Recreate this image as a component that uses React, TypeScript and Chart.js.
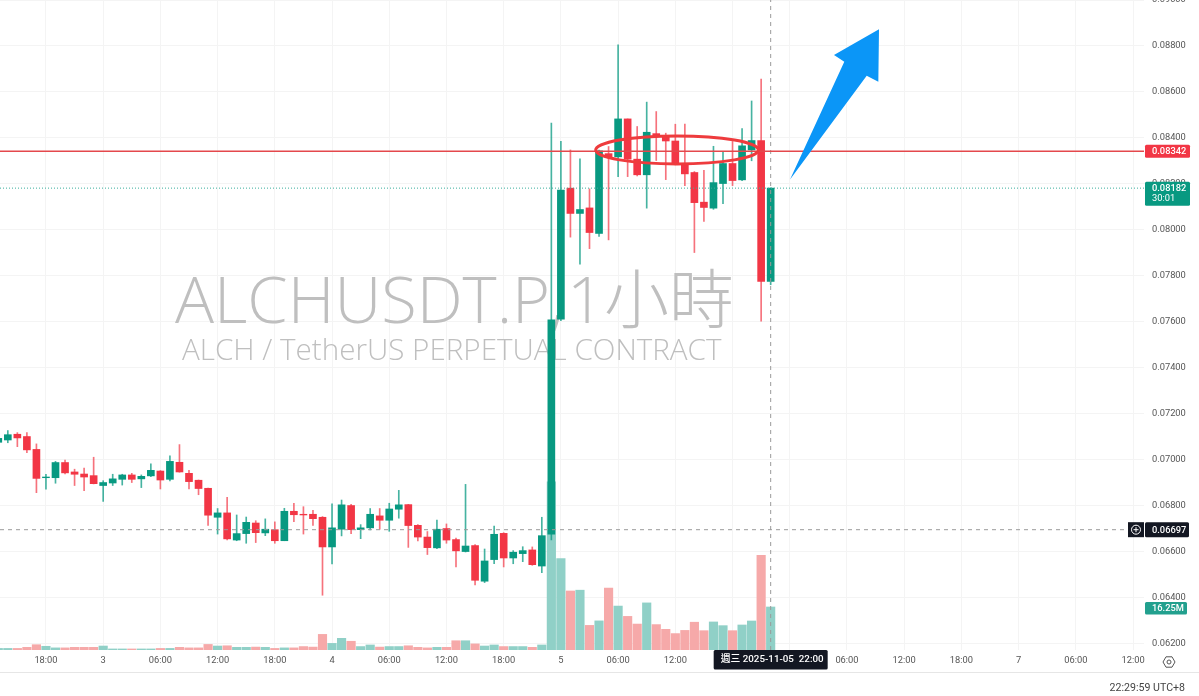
import React, { useEffect, useRef } from "react";
import { Chart, registerables } from "chart.js";

Chart.register(...registerables);

const hours = [-11,-10,-9,-8,-7,-6,-5,-4,-3,-2,-1,0,1,2,3,4,5,6,7,8,9,10,11,12,13,14,15,16,17,18,19,20,21,22,23,24,25,26,27,28,29,30,31,32,33,34,35,36,37,38,39,40,41,42,43,44,45,46,47,48,49,50,51,52,53,54,55,56,57,58,59,60,61,62,63,64,65,66,67,68,69,70];
const opens = [0.07077,0.07087,0.07112,0.07102,0.07046,0.06923,0.06923,0.06989,0.06948,0.06939,0.06932,0.06889,0.069,0.06916,0.06935,0.06918,0.06931,0.06952,0.06916,0.0699,0.06942,0.06912,0.06877,0.06751,0.0677,0.06652,0.0668,0.06726,0.06683,0.06697,0.06649,0.06777,0.06764,0.06764,0.06751,0.06622,0.06699,0.06802,0.06697,0.06705,0.06757,0.06738,0.06786,0.06806,0.06716,0.06665,0.06618,0.06702,0.06654,0.06602,0.06628,0.06473,0.06567,0.06681,0.06574,0.06593,0.06609,0.06539,0.06678,0.07612,0.08182,0.08072,0.08096,0.07985,0.08332,0.08318,0.08483,0.08308,0.0824,0.08419,0.08406,0.08387,0.0829,0.0825,0.08121,0.08095,0.08202,0.08289,0.08218,0.08348,0.08389,0.07776];
const closes = [0.07094,0.0711,0.07096,0.07044,0.0692,0.06926,0.06989,0.06944,0.06938,0.06926,0.06897,0.06902,0.06918,0.06935,0.06916,0.06929,0.06955,0.06913,0.06994,0.06948,0.06906,0.06876,0.0676,0.0677,0.06657,0.0668,0.06729,0.06684,0.06699,0.06649,0.06777,0.06762,0.06761,0.06745,0.06622,0.06705,0.06805,0.06697,0.06705,0.06764,0.06738,0.06787,0.06805,0.06715,0.06665,0.06619,0.06699,0.06652,0.06605,0.06626,0.06477,0.06561,0.06677,0.06574,0.06599,0.06606,0.06545,0.06671,0.07609,0.08174,0.08072,0.08089,0.07989,0.08344,0.08318,0.08483,0.08308,0.0824,0.08425,0.08406,0.08387,0.08286,0.08244,0.08119,0.08098,0.08206,0.08289,0.08215,0.08366,0.08389,0.07776,0.08182];
const highs = [0.07102,0.07128,0.07119,0.07119,0.0707,0.06938,0.06994,0.07,0.0696,0.06965,0.07012,0.0691,0.06938,0.06938,0.06942,0.06935,0.06983,0.06954,0.07018,0.07067,0.06955,0.06913,0.06878,0.06789,0.06838,0.06761,0.06752,0.06736,0.06744,0.06731,0.0679,0.06812,0.06797,0.06781,0.06754,0.06809,0.06826,0.06807,0.06719,0.06789,0.06789,0.06812,0.06868,0.06807,0.06719,0.06689,0.06739,0.06722,0.0666,0.06894,0.06632,0.06613,0.06713,0.06684,0.06606,0.06623,0.06622,0.06751,0.08465,0.08385,0.08348,0.08309,0.08179,0.08348,0.08363,0.08805,0.08483,0.0845,0.08556,0.08515,0.08421,0.0846,0.0846,0.08254,0.08259,0.08364,0.08338,0.08385,0.08441,0.08561,0.08656,0.08183];
const lows = [0.07073,0.07075,0.07058,0.07032,0.06858,0.06873,0.06899,0.06939,0.06889,0.06867,0.06896,0.0682,0.06889,0.06891,0.06902,0.0688,0.06928,0.06874,0.06909,0.06947,0.06874,0.06849,0.06716,0.06678,0.06652,0.06649,0.06638,0.06641,0.06671,0.06638,0.06649,0.06732,0.06678,0.06716,0.06412,0.06548,0.0667,0.0668,0.06658,0.06696,0.06699,0.0669,0.06747,0.0662,0.06648,0.06589,0.06615,0.06638,0.06535,0.066,0.06457,0.06467,0.06549,0.06535,0.06549,0.06558,0.06542,0.0651,0.06652,0.07606,0.07969,0.07851,0.07919,0.07972,0.07957,0.08232,0.08232,0.08235,0.08095,0.08302,0.08219,0.08283,0.08193,0.07902,0.08037,0.0809,0.08114,0.08193,0.08215,0.08301,0.07604,0.07762];
const volumes = [0.6,0.6,0.6,1.0,2.0,1.4,0.8,0.8,1.0,1.0,1.0,1.5,0.4,0.4,0.4,0.4,0.4,0.6,0.6,1.0,0.8,0.8,2.1,1.5,1.6,1.0,1.0,1.1,1.0,0.6,0.8,0.8,1.3,1.1,5.9,2.5,4.4,3.3,1.3,1.9,1.1,1.3,1.3,1.6,1.0,0.8,1.0,1.0,3.5,3.5,2.3,1.5,1.9,1.3,1.3,1.3,1.0,1.9,63.5,34.5,22.3,22.6,9.3,11,23.4,16.6,12.7,9.8,17.8,9.6,7.8,6.2,7.4,10.5,7.3,10.6,9.2,7.3,9.45,10.96,35.8,16.25];

const priceTicks = [0.062,0.064,0.066,0.068,0.07,0.072,0.074,0.076,0.078,0.08,0.082,0.084,0.086,0.088,0.09];
const timeTickHours = [-12,-6,0,6,12,18,24,30,36,42,48,54,60,66,72,78,84,90,96,102,108];
const timeTickLabels = ["12:00","18:00","3","06:00","12:00","18:00","4","06:00","12:00","18:00","5","06:00","12:00","18:00","6","06:00","12:00","18:00","7","06:00","12:00"];

const resistancePrice = 0.08342;
const lastPrice = 0.08182;
const crossPrice = 0.06697;
const crossHour = 70;
const crossLabel = "週三 2025-11-05  22:00";
const countdown = "30:01";
const volumeLabel = "16.25M";
const clockLabel = "22:29:59 UTC+8";
const titleLine = "ALCHUSDT.P, 1小時";
const subtitleLine = "ALCH / TetherUS PERPETUAL CONTRACT";

const arrowHours = [72.03, 77.72, 76.64, 81.36, 81.29, 80.07];
const arrowPrices = [0.0822, 0.08732, 0.08761, 0.08873, 0.08645, 0.08671];
const ringHour = 60.18;
const ringPrice = 0.08348;
const ringHalfHours = 8.53;
const ringHalfPrice = 0.00061;

const hourMin = -10.82;
const hourMax = 109.15;
const priceMax = 0.09;
const priceMin = 0.061739;
const volumeMax = 245.6;

const GREEN = "#089981";
const RED = "#f23645";
const GREEN_WICK = "rgba(8,153,129,0.75)";
const RED_WICK = "rgba(242,54,69,0.7)";
const GREEN_VOL = "#90d0c7";
const RED_VOL = "#f6a9a9";
const FONT = '"Open Sans", "Noto Sans CJK TC", sans-serif';
const UI_FONT = 'Roboto, "Noto Sans CJK TC", sans-serif';

const up = (i: number) => closes[i] >= opens[i];

function tag(ctx: CanvasRenderingContext2D, x: number, y: number, w: number, h: number, color: string) {
  ctx.fillStyle = color;
  ctx.beginPath();
  ctx.roundRect(x, y, w, h, 1.5);
  ctx.fill();
}

const decor = {
  id: "decor",
  beforeDatasetsDraw(chart: any) {
    const ctx: any = chart.ctx;
    ctx.save();
    ctx.fillStyle = "#bfbfbf";
    ctx.textBaseline = "alphabetic";
    ctx.textAlign = "left";
    ctx.font = `300 65px ${FONT}`;
    ctx.wordSpacing = "-14px";
    ctx.fillText(titleLine, 175, 323);
    ctx.wordSpacing = "0px";
    ctx.font = `300 29.6px ${FONT}`;
    ctx.fillText(subtitleLine, 182, 360);
    ctx.restore();
  },
  afterDraw(chart: any) {
    const ctx: CanvasRenderingContext2D = chart.ctx;
    const xs = chart.scales.x;
    const ys = chart.scales.y;
    ctx.save();

    // ring
    ctx.strokeStyle = "#ee3b3d";
    ctx.lineWidth = 3;
    const cx = xs.getPixelForValue(ringHour);
    const cy = ys.getPixelForValue(ringPrice);
    const rx = xs.getPixelForValue(ringHour + ringHalfHours) - cx;
    const ry = ys.getPixelForValue(ringPrice - ringHalfPrice) - cy;
    ctx.beginPath();
    ctx.ellipse(cx, cy, rx, ry, 0, 0, Math.PI * 2);
    ctx.stroke();

    // arrow
    ctx.fillStyle = "#0b96f7";
    ctx.beginPath();
    arrowHours.forEach((h, i) => {
      const px = xs.getPixelForValue(h);
      const py = ys.getPixelForValue(arrowPrices[i]);
      if (i === 0) ctx.moveTo(px, py);
      else ctx.lineTo(px, py);
    });
    ctx.closePath();
    ctx.fill();

    // bottom separator
    ctx.fillStyle = "#e6e6e6";
    ctx.fillRect(0, 672, 1199, 1);

    // price tags
    ctx.textBaseline = "middle";
    ctx.textAlign = "left";
    const rY = ys.getPixelForValue(resistancePrice);
    tag(ctx, 1145, rY - 6.5, 45, 13, RED);
    ctx.fillStyle = "#ffffff";
    ctx.font = `500 9.3px ${UI_FONT}`;
    ctx.fillText(resistancePrice.toFixed(5), 1152, rY + 0.5);

    const lY = ys.getPixelForValue(lastPrice);
    tag(ctx, 1145, lY - 6.5, 45, 24, GREEN);
    ctx.fillStyle = "#ffffff";
    ctx.fillText(lastPrice.toFixed(5), 1152, lY + 0.5);
    ctx.font = `400 9.3px ${UI_FONT}`;
    ctx.fillText(countdown, 1152, lY + 11);

    const cY = ys.getPixelForValue(crossPrice);
    ctx.fillStyle = "#131722";
    ctx.fillRect(1128, cY - 7.5, 16, 15);
    tag(ctx, 1145, cY - 7.5, 44, 15, "#131722");
    ctx.strokeStyle = "#ffffff";
    ctx.lineWidth = 1;
    ctx.beginPath();
    ctx.arc(1136, cY, 4.5, 0, Math.PI * 2);
    ctx.moveTo(1133.5, cY);
    ctx.lineTo(1138.5, cY);
    ctx.moveTo(1136, cY - 2.5);
    ctx.lineTo(1136, cY + 2.5);
    ctx.stroke();
    ctx.fillStyle = "#ffffff";
    ctx.font = `500 9.3px ${UI_FONT}`;
    ctx.fillText(crossPrice.toFixed(5), 1152, cY + 0.5);

    tag(ctx, 1145, 602, 42, 12.5, "#22a08e");
    ctx.fillStyle = "#ffffff";
    ctx.fillText(volumeLabel, 1152, 608.5);

    // crosshair time tag
    const hX = xs.getPixelForValue(crossHour);
    tag(ctx, hX - 57, 650, 114, 19.5, "#131722");
    ctx.fillStyle = "#ffffff";
    ctx.textAlign = "left";
    ctx.font = `500 9.8px ${UI_FONT}`;
    ctx.fillText(crossLabel, hX - 50, 660);

    // settings icon
    ctx.strokeStyle = "#555555";
    ctx.lineWidth = 1;
    ctx.beginPath();
    for (let i = 0; i < 6; i++) {
      const a = (Math.PI / 3) * i;
      const px = 1169 + 6 * Math.cos(a);
      const py = 662 + 6 * Math.sin(a);
      if (i === 0) ctx.moveTo(px, py);
      else ctx.lineTo(px, py);
    }
    ctx.closePath();
    ctx.moveTo(1171, 662);
    ctx.arc(1169, 662, 2, 0, Math.PI * 2);
    ctx.stroke();

    // clock
    ctx.fillStyle = "#444444";
    ctx.textAlign = "right";
    ctx.font = `400 10.6px ${UI_FONT}`;
    ctx.fillText(clockLabel, 1185, 688);
    ctx.restore();
  },
};

export default function App() {
  const ref = useRef<HTMLCanvasElement>(null);
  useEffect(() => {
    document.body.style.margin = "0";
    document.body.style.overflow = "hidden";
    const flat = (v: number) => [
      { x: hourMin, y: v },
      { x: hourMax, y: v },
    ];
    const chart = new Chart(ref.current as HTMLCanvasElement, {
      type: "bar",
      data: {
        datasets: [
          {
            type: "line",
            data: flat(resistancePrice),
            borderColor: "#e4484c",
            borderWidth: 1.5,
            pointRadius: 0,
            yAxisID: "y",
            order: 0,
          },
          {
            type: "line",
            data: flat(lastPrice),
            borderColor: "#3aaf9c",
            borderWidth: 1,
            borderDash: [1, 2],
            pointRadius: 0,
            yAxisID: "y",
            order: 0,
          },
          {
            type: "line",
            data: flat(crossPrice),
            borderColor: "#9a9a9a",
            borderWidth: 1,
            borderDash: [4, 4],
            pointRadius: 0,
            yAxisID: "y",
            order: 0,
          },
          {
            type: "line",
            data: [
              { x: crossHour, y: priceMin },
              { x: crossHour, y: priceMax },
            ],
            borderColor: "#9a9a9a",
            borderWidth: 1,
            borderDash: [4, 4],
            pointRadius: 0,
            yAxisID: "y",
            order: 0,
          },
          {
            type: "bar",
            data: hours.map((h, i) => ({ x: h, y: [opens[i], closes[i]] })),
            backgroundColor: (c: any) => (up(c.dataIndex) ? GREEN : RED),
            barThickness: 7,
            grouped: false,
            borderWidth: 0,
            yAxisID: "y",
            order: 1,
          },
          {
            type: "bar",
            data: hours.map((h, i) => ({ x: h, y: [lows[i], highs[i]] })),
            backgroundColor: (c: any) => (up(c.dataIndex) ? GREEN_WICK : RED_WICK),
            barThickness: 1,
            grouped: false,
            borderWidth: 0,
            yAxisID: "y",
            order: 2,
          },
          {
            type: "bar",
            data: hours.map((h, i) => ({ x: h, y: volumes[i] })),
            backgroundColor: (c: any) => (up(c.dataIndex) ? GREEN_VOL : RED_VOL),
            barThickness: 8.5,
            grouped: false,
            borderWidth: 0,
            yAxisID: "vol",
            order: 3,
          },
        ] as any,
      },
      options: {
        animation: false,
        responsive: false,
        layout: { padding: 0 },
        plugins: { legend: { display: false }, tooltip: { enabled: false } },
        scales: {
          x: {
            type: "linear",
            offset: false,
            min: hourMin,
            max: hourMax,
            afterBuildTicks: (s: any) => {
              s.ticks = timeTickHours.map((value) => ({ value }));
            },
            afterFit: (s: any) => {
              s.height = 46;
              s.paddingLeft = 0;
              s.paddingRight = 0;
            },
            grid: { color: "#f4f4f4", drawTicks: false, offset: false },
            border: { display: false },
            ticks: {
              autoSkip: false,
              maxRotation: 0,
              padding: 5,
              color: "#555555",
              font: { family: UI_FONT, size: 9.3 },
              callback: (v: any) => {
                const i = timeTickHours.indexOf(v);
                return i >= 0 ? timeTickLabels[i] : "";
              },
            },
          },
          y: {
            position: "right",
            min: priceMin,
            max: priceMax,
            afterBuildTicks: (s: any) => {
              s.ticks = priceTicks.map((value) => ({ value }));
            },
            afterFit: (s: any) => {
              s.width = 55;
              s.paddingTop = 0;
              s.paddingBottom = 0;
            },
            grid: { color: "#f4f4f4", drawTicks: false },
            border: { display: false },
            ticks: {
              align: "center",
              crossAlign: "near",
              padding: 8,
              color: "#555555",
              font: { family: UI_FONT, size: 9.3 },
              callback: (v: any) => Number(v).toFixed(5),
            },
          },
          vol: {
            display: false,
            min: 0,
            max: volumeMax,
          },
        },
      } as any,
      plugins: [decor],
    });
    return () => chart.destroy();
  }, []);
  return <canvas ref={ref} width={1199} height={696} style={{ display: "block" }} />;
}
